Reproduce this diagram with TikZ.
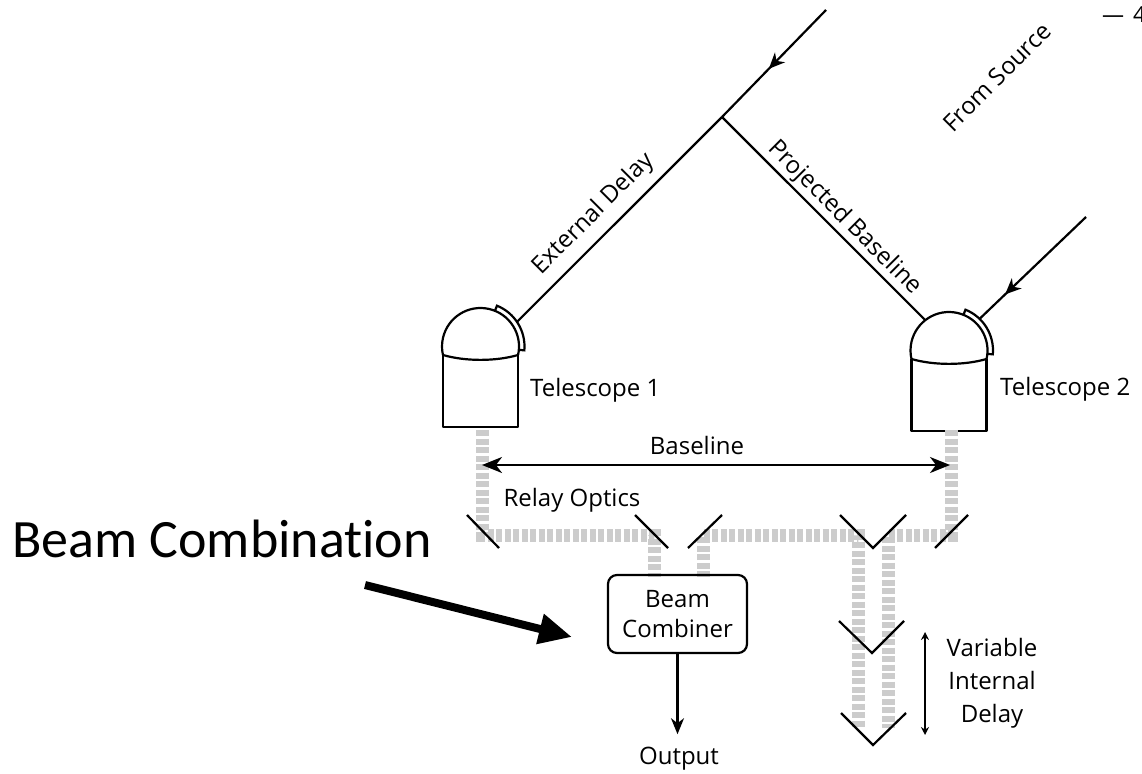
\documentclass[tikz,border=0pt]{standalone}
\usepackage{fontspec}
\setmainfont{Open Sans}
\newfontfamily\bigfont[RawFeature=-liga]{Carlito}
\usetikzlibrary{arrows.meta,calc,decorations.markings}

\tikzset{
  line/.style={draw=black, line width=2.2pt},
  relay/.style={draw=black!20, line width=13pt, dash pattern=on 6pt off 2.5pt},
  lbl/.style={font=\fontsize{24}{33}\selectfont, inner sep=0pt},
  midarrow/.style={postaction={decorate}, decoration={markings,
      mark=at position #1 with {\arrow{Stealth[length=16pt,width=14pt,inset=5pt]}}}},
  % telescope: origin at the centre of the dome circle
  telescope/.pic={
    \begin{scope}[y=1pt]
      \draw[line, line join=round]
        (-37.5,-8.5) -- (-37.5,-80.5) -- (37.5,-80.5) -- (37.5,-8.5);
      \draw[line] (-37.5,-8.5) .. controls (-15,-15) and (15,-15) .. (37.5,-8.5);
      \draw[line] (-12.75:38.5) arc[start angle=-12.75, end angle=192.75, radius=38.5];
      % shutter on the dome
      \draw[line, line join=miter]
        (68:38.5) -- (68:44) arc[start angle=68, end angle=-5, radius=44] -- (-5:38.5);
      \coordinate (-a) at (34:44);
      \coordinate (-b) at (46:44);
      \coordinate (-c) at (128:38.5);
      \coordinate (-foot) at (0,-80.5);
    \end{scope}
  }
}

\begin{document}
\begin{tikzpicture}[x=1pt, y=-1pt]
  \useasboundingbox (0,0) rectangle (1142,773);

  % telescopes
  \pic (t1) at (480.5,346.5) {telescope};
  \pic (t2) at (949,350.5) {telescope};

  \node[lbl, anchor=west] (tl1) at (530,390) {Telescope 1};
  \node[lbl, anchor=west] (tl2) at (1000,389) {Telescope 2};

  % incoming wavefront geometry
  \coordinate (s1) at (826,10);
  \coordinate (s2) at (1086,217);
  \coordinate (f) at (722,117);

  \draw[line, midarrow=0.55] (s1) -- (f);
  \draw[line] (f) -- node[lbl, pos=0.55, sloped, above=9pt] (ext) {External Delay} (t1-a);
  \draw[line] (f) -- node[lbl, pos=0.55, sloped, above=2pt] (proj) {Projected Baseline} (t2-c);
  \draw[line, midarrow=0.76] (s2) -- (t2-b);
  \node[lbl, rotate=45] (src) at (997,77) {From Source};

  % relay beams
  \coordinate (c1) at (654,577);
  \coordinate (c2) at (703,577);
  \draw[relay] (482,430) -- (482,535) -- (654,535) -- (c1);
  \draw[relay] (c2) -- (703,535) -- (858,535) -- (858,728);
  \draw[relay] (951,430) -- (951,535) -- (888,535) -- (888,728);

  % mirrors
  \draw[line] (467,515) -- (499,548);
  \draw[line] (635,515) -- (668,548);
  \draw[line] (688,548) -- (722,515);
  \draw[line, line join=miter] (840,515) -- (873,548) -- (906,515);
  \draw[line] (935,548) -- (968,515);
  \draw[line, line join=miter] (839,621) -- (872,653) -- (904,621);
  \draw[line, line join=miter] (841,713) -- (873,745) -- (906,713);

  % baseline
  \coordinate (b1) at (482,465);
  \coordinate (b2) at (950,465);
  \draw[line, {Stealth[length=20pt,width=16pt,inset=6pt]}-{Stealth[length=20pt,width=16pt,inset=6pt]}] (b1) -- (b2);
  \node[lbl] (bl) at (697,445) {Baseline};
  \node[lbl] (ro) at (572,500) {Relay Optics};

  % beam combiner and output
  \node[line, draw, rounded corners=9pt, minimum width=139pt, minimum height=78pt,
        align=center, font=\fontsize{24}{30}\selectfont] (bc) at (677.5,614) {Beam\\Combiner};
  \node[lbl] (out) at (679,759) {Output};
  \draw[line, shorten >=13pt, -{Stealth[length=16pt,width=13pt,inset=5pt]}] (bc.south) -- (bc.south |- out.north);

  % variable delay
  \coordinate (d1) at (925,632);
  \coordinate (d2) at (925,735);
  \draw[line width=1.6pt, {Stealth[length=8pt,width=8pt]}-{Stealth[length=8pt,width=8pt]}] (d1) -- (d2);
  \node[lbl, align=center] (vd) at (992,683) {Variable\\Internal\\Delay};

  % annotation
  \node[font=\bigfont\fontsize{54}{60}\selectfont, anchor=base west, inner sep=0pt] (bcomb) at (12,557) {Beam Combination};
  \coordinate (ta) at (365,585);
  \coordinate (tb) at (572,637);
  \draw[line width=8pt, -{Triangle[length=33pt,width=29pt]}] (ta) -- (tb);

  % page number fragment
  \node[font=\fontsize{22}{26}\selectfont, anchor=west, inner sep=0pt] (pg) at (1102,15) {—\kern 9pt 4};
\end{tikzpicture}
\end{document}
